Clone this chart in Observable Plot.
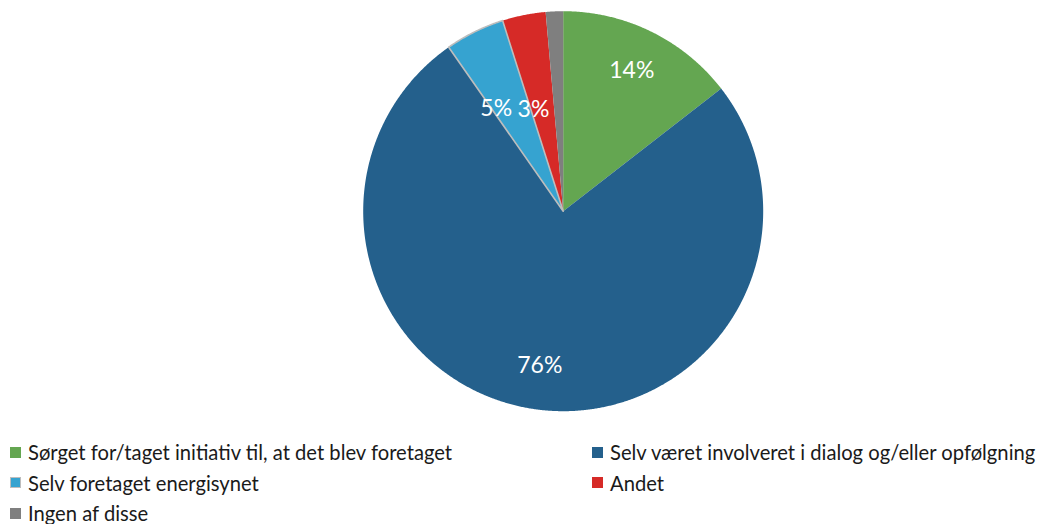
<!DOCTYPE html>
<html><head><meta charset="utf-8">
<script src="https://cdn.jsdelivr.net/npm/d3@7"></script>
<script src="https://cdn.jsdelivr.net/npm/@observablehq/plot@0.6"></script>
<style>
body{margin:0;background:#fff;font-family:Lato,"Open Sans",sans-serif;}
#legend{display:grid;grid-template-columns:582px auto;padding-left:10px;padding-top:7px;}
.item{display:flex;align-items:center;height:30.5px;font-size:20.2px;color:#1a1a1a;white-space:nowrap;}
.sw{width:11px;height:11px;margin-right:7px;flex:none;box-sizing:border-box;}
</style>
</head><body>
<div id="chart"></div>
<div id="legend"></div>
<script>
const categories = [
  "Sørget for/taget initiativ til, at det blev foretaget",
  "Selv været involveret i dialog og/eller opfølgning",
  "Selv foretaget energisynet",
  "Andet",
  "Ingen af disse"
];
const values = [14.5, 75.8, 4.8, 3.5, 1.4];
const labels = ["14%", "76%", "5%", "3%", ""];
const colors = ["#64a651", "#24608c", "#36a3d0", "#d62a27", "#7f7f7f"];
const outlined = "Selv foretaget energisynet";

const rows = categories.map((c, i) => ({cat: c, value: values[i], label: labels[i], color: colors[i]}));
const arcs = d3.pie().sort(null).value(d => d.value)(rows);

// polygon vertices for each slice, derived from the pie angles
const poly = [];
for (const a of arcs) {
  const n = Math.max(2, Math.ceil((a.endAngle - a.startAngle) / 0.005));
  poly.push({cat: a.data.cat, x: 0, y: 0});
  for (let k = 0; k <= n; k++) {
    const t = a.startAngle + (a.endAngle - a.startAngle) * k / n;
    poly.push({cat: a.data.cat, x: Math.sin(t), y: Math.cos(t)});
  }
  poly.push({cat: a.data.cat, x: 0, y: 0});
}
const outline = poly.filter(d => d.cat === outlined);

const labelPts = arcs.filter(a => a.data.label).map(a => {
  const big = a.data.value > 10;
  const ang = big ? (a.startAngle + a.endAngle) / 2 : a.startAngle + 0.1 * (a.endAngle - a.startAngle);
  const r = big ? 0.78 : 0.3 + 0.065 * a.data.value;
  return {x: r * Math.sin(ang), y: r * Math.cos(ang), text: a.data.label};
});

const W = 1039, H = 430, cx = 562.7, cy = 210.7, R = 200;
const chart = Plot.plot({
  width: W, height: H,
  marginLeft: cx - R, marginRight: W - cx - R,
  marginTop: cy - R, marginBottom: H - cy - R,
  x: {domain: [-1, 1], axis: null},
  y: {domain: [-1, 1], axis: null},
  color: {domain: categories, range: colors},
  style: {background: "white"},
  marks: [
    Plot.line(poly, {x: "x", y: "y", z: "cat", fill: "cat", stroke: null, curve: "linear"}),
    Plot.line(outline, {x: "x", y: "y", fill: "none", stroke: "#bdbdbd", strokeWidth: 1.6}),
    Plot.text(labelPts, {x: "x", y: "y", text: "text", fill: "white", fontSize: 23, fontFamily: "Lato, sans-serif"})
  ]
});
document.getElementById("chart").appendChild(chart);

const leg = document.getElementById("legend");
rows.forEach(r => {
  const it = document.createElement("div");
  it.className = "item";
  const sw = document.createElement("span");
  sw.className = "sw";
  sw.style.background = r.color;
  if (r.cat === outlined) sw.style.border = "1.5px solid #bdbdbd";
  it.appendChild(sw);
  it.appendChild(document.createTextNode(r.cat));
  leg.appendChild(it);
});
</script>
</body></html>
